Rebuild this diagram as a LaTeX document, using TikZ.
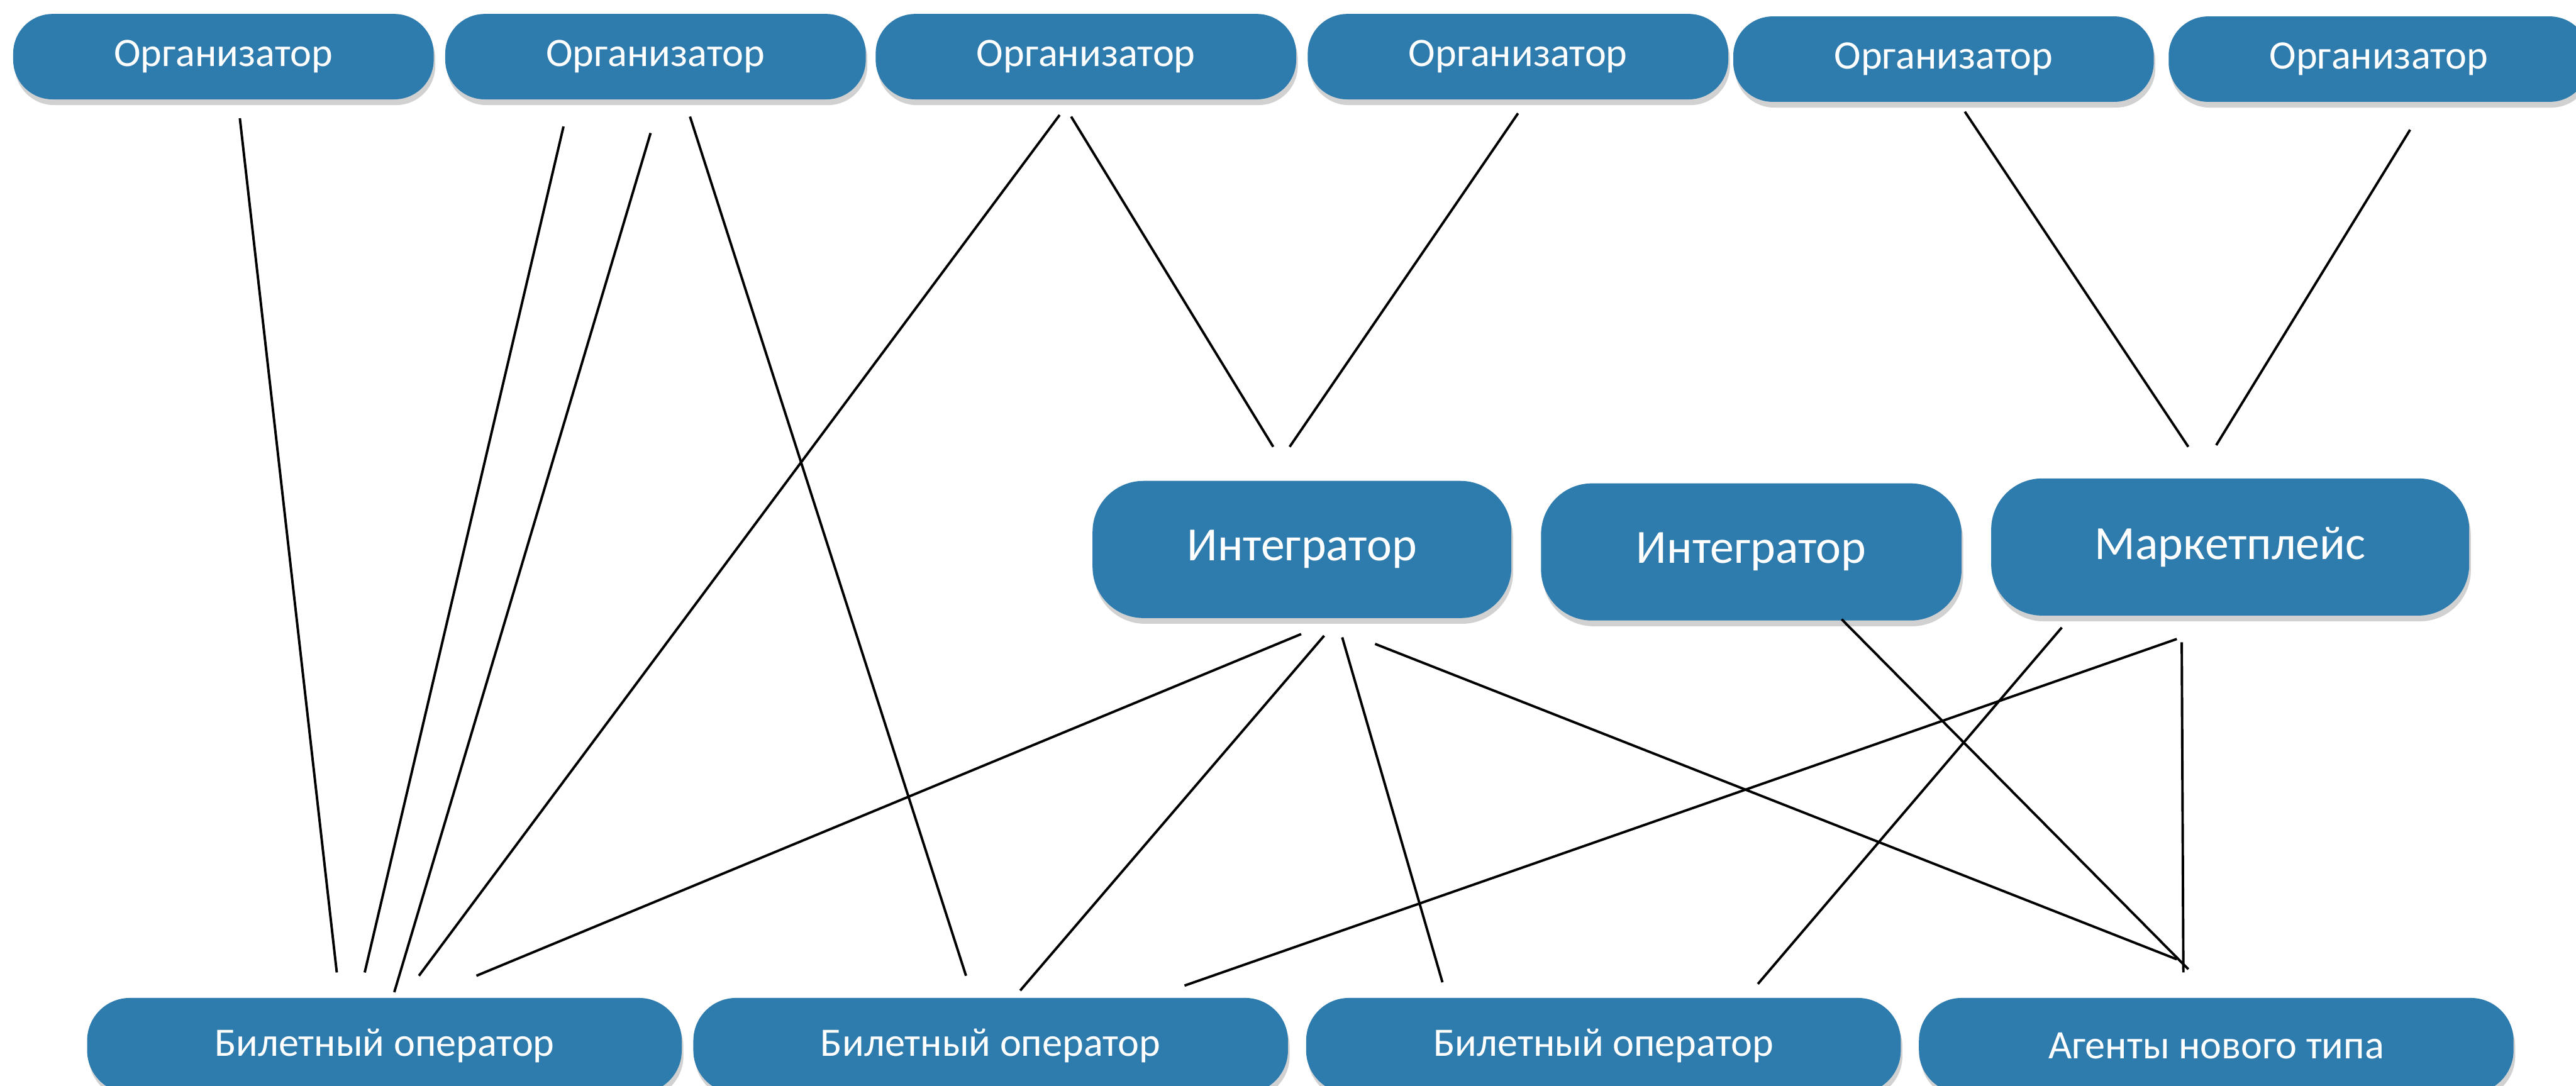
\documentclass[tikz,border=0pt]{standalone}
\usepackage{fontspec}
\setmainfont{Carlito}
\usetikzlibrary{shadows}
\definecolor{boxblue}{RGB}{46,123,173}
\tikzset{
  box/.style={rectangle, rounded corners=0.48cm, fill=boxblue, text=white, inner sep=0pt, align=center,
    drop shadow={shadow xshift=0.02cm, shadow yshift=-0.07cm, opacity=0.3, fill=black!60}},
  topbox/.style={box, minimum width=5.12cm, minimum height=1.04cm, font=\fontsize{14}{16}\selectfont},
  midbox/.style={box, rounded corners=0.62cm, minimum height=1.67cm, font=\fontsize{16.5}{19}\selectfont},
  botbox/.style={box, rounded corners=0.52cm, minimum width=7.24cm, minimum height=1.16cm, font=\fontsize{14}{16}\selectfont},
  link/.style={draw=black, line width=0.85pt}
}
\begin{document}
\begin{tikzpicture}[x=0.02cm, y=-0.02cm]
\useasboundingbox (0,0) rectangle (1568,661);
% top row
\node[topbox] (o1) at (136,34.5) {Организатор};
\node[topbox] (o2) at (399,34.5) {Организатор};
\node[topbox] (o3) at (661,34.5) {Организатор};
\node[topbox] (o4) at (924,34.5) {Организатор};
\node[topbox] (o5) at (1183,36) {Организатор};
\node[topbox] (o6) at (1448,36) {Организатор};
% middle row
\node[midbox, minimum width=5.1cm] (i1) at (792.5,334.5) {Интегратор};
\node[midbox, minimum width=5.12cm] (i2) at (1066,336) {Интегратор};
\node[midbox, minimum width=5.82cm] (m) at (1357.5,333) {Маркетплейс};
% bottom row
\node[botbox] (b1) at (234,636.5) {Билетный оператор};
\node[botbox] (b2) at (603,636.5) {Билетный оператор};
\node[botbox] (b3) at (976,636.5) {Билетный оператор};
\node[botbox] (ag) at (1349,636.5) {Агенты нового типа};
% connector end points
\coordinate (o1a) at (146,72);   \coordinate (b1a) at (205,592);
\coordinate (o2a) at (343,77);   \coordinate (b1b) at (222,592);
\coordinate (o2b) at (396,81);   \coordinate (b1c) at (240,604);
\coordinate (o2c) at (420,71);   \coordinate (b2a) at (588,594);
\coordinate (o3a) at (645,70);   \coordinate (b1d) at (255,594);
\coordinate (o3b) at (652,71);   \coordinate (i1a) at (775,272);
\coordinate (o4a) at (924,69);   \coordinate (i1b) at (785,272);
\coordinate (o5a) at (1196,68);  \coordinate (ma) at (1332,272);
\coordinate (o6a) at (1467,79);  \coordinate (mb) at (1349,271);
\coordinate (i1c) at (792,386);  \coordinate (b1e) at (290,594);
\coordinate (i1d) at (806,387);  \coordinate (b2b) at (621,603);
\coordinate (i1e) at (817,388);  \coordinate (b3a) at (878,598);
\coordinate (i1f) at (837,392);  \coordinate (aga) at (1325,584);
\coordinate (i2a) at (1121,377); \coordinate (agb) at (1332,590);
\coordinate (mc) at (1255,382);  \coordinate (b3b) at (1070,599);
\coordinate (md) at (1325,389);  \coordinate (b2c) at (721,600);
\coordinate (me) at (1328,391);  \coordinate (agc) at (1329,592);
% connectors
\draw[link] (o1a) -- (b1a);
\draw[link] (o2a) -- (b1b);
\draw[link] (o2b) -- (b1c);
\draw[link] (o2c) -- (b2a);
\draw[link] (o3a) -- (b1d);
\draw[link] (o3b) -- (i1a);
\draw[link] (o4a) -- (i1b);
\draw[link] (o5a) -- (ma);
\draw[link] (o6a) -- (mb);
\draw[link] (i1c) -- (b1e);
\draw[link] (i1d) -- (b2b);
\draw[link] (i1e) -- (b3a);
\draw[link] (i1f) -- (aga);
\draw[link] (i2a) -- (agb);
\draw[link] (mc) -- (b3b);
\draw[link] (md) -- (b2c);
\draw[link] (me) -- (agc);
\end{tikzpicture}
\end{document}
